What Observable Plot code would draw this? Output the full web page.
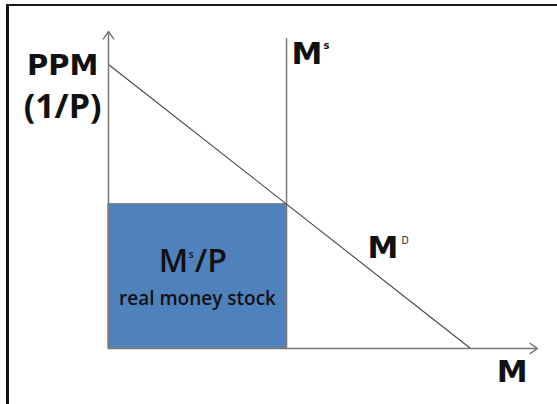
<!DOCTYPE html>
<html>
<head>
<meta charset="utf-8">
<script src="https://cdn.jsdelivr.net/npm/d3@7"></script>
<script src="https://cdn.jsdelivr.net/npm/@observablehq/plot@0.6"></script>
<style>
  html, body { margin: 0; padding: 0; background: #fff; }
  #wrap { position: relative; width: 557px; height: 404px; overflow: hidden; }
  #frame { position: absolute; left: 6px; top: 4px; width: 560px; height: 420px;
           border-top: 2.5px solid #1a1a1a; border-left: 3px solid #111; pointer-events: none; }
</style>
</head>
<body>
<div id="wrap"><div id="frame"></div></div>
<script>
// Money stock (horizontal) and purchasing power of money (vertical), abstract units 0–10
const axisMax = 10;
const moneySupply = 4.15;          // vertical Ms line position
const moneySupplyTop = 9.78;       // top end of Ms line
const demandM = [0, 8.44];         // MD line: M values
const demandPPM = [8.96, 0];       // MD line: PPM values
const equilibriumPPM = 4.55;       // PPM where Ms meets MD
const axisLabels = ["PPM", "(1/P)", "M"];
const curveNames = ["M", "s", "D"];
const boxTitle = ["M", "s", "/P"];
const boxSubtitle = "real money stock";

const demand = demandM.map((m, i) => ({M: m, PPM: demandPPM[i]}));

const bold = {fontFamily: "DejaVu Sans", fontWeight: "bold", fill: "#111"};
const reg = {fontFamily: "Open Sans", fontWeight: 600, fill: "#111"};

const chart = Plot.plot({
  width: 557,
  height: 404,
  marginLeft: 108,
  marginRight: 20,
  marginTop: 31,
  marginBottom: 56,
  x: {domain: [0, axisMax], axis: null},
  y: {domain: [0, axisMax], axis: null},
  style: {background: "transparent", overflow: "visible"},
  marks: [
    Plot.rect([{x1: 0, x2: moneySupply, y1: 0, y2: equilibriumPPM}],
      {x1: "x1", x2: "x2", y1: "y1", y2: "y2", fill: "#4F81BD", stroke: "#7a7a7a", strokeWidth: 1.2, inset: 0}),
    Plot.ruleX([moneySupply], {y1: 0, y2: moneySupplyTop, stroke: "#7a7a7a", strokeWidth: 1.5}),
    Plot.line(demand, {x: "M", y: "PPM", stroke: "#444", strokeWidth: 1.1}),
    Plot.arrow([{x1: 0, y1: 0, x2: 0, y2: axisMax}],
      {x1: "x1", y1: "y1", x2: "x2", y2: "y2", stroke: "#7a7a7a", strokeWidth: 1.5, headLength: 9, headAngle: 70}),
    Plot.arrow([{x1: 0, y1: 0, x2: axisMax, y2: 0}],
      {x1: "x1", y1: "y1", x2: "x2", y2: "y2", stroke: "#7a7a7a", strokeWidth: 1.5, headLength: 9, headAngle: 70}),
    // axis labels
    Plot.text([axisLabels[0]], {x: -1.07, y: 8.64, text: d => d, fontSize: 29, textAnchor: "middle", lineAnchor: "bottom", ...bold}),
    Plot.text([axisLabels[1]], {x: -1.07, y: 7.256, text: d => d, fontSize: 34, textAnchor: "middle", lineAnchor: "bottom", fontFamily: "Open Sans", fontWeight: 700, fill: "#111"}),
    Plot.text([axisLabels[2]], {x: 9.41, y: -1.07, text: d => d, fontSize: 31, textAnchor: "middle", lineAnchor: "bottom", ...bold}),
    // Ms label
    Plot.text([curveNames[0]], {x: moneySupply, y: 8.99, dx: 5, text: d => d, fontSize: 31, textAnchor: "start", lineAnchor: "bottom", ...bold}),
    Plot.text([curveNames[1]], {x: moneySupply, y: 8.99, dx: 37, dy: -15, text: d => d, fontSize: 10, textAnchor: "start", lineAnchor: "bottom", ...bold}),
    // MD label
    Plot.text([curveNames[0]], {x: 6.04, y: 2.86, text: d => d, fontSize: 31, textAnchor: "start", lineAnchor: "bottom", ...bold}),
    Plot.text([curveNames[2]], {x: 6.04, y: 2.86, dx: 34, dy: -14, text: d => d, fontSize: 10, textAnchor: "start", lineAnchor: "bottom", fontFamily: "Open Sans", fill: "#111"}),
    // box text
    Plot.text([boxTitle[0]], {x: 1.17, y: 2.4, text: d => d, fontSize: 32, textAnchor: "start", lineAnchor: "bottom", ...reg}),
    Plot.text([boxTitle[1]], {x: 1.17, y: 2.4, dx: 30, dy: -14, text: d => d, fontSize: 10, textAnchor: "start", lineAnchor: "bottom", ...reg}),
    Plot.text([boxTitle[2]], {x: 1.17, y: 2.4, dx: 36, text: d => d, fontSize: 32, textAnchor: "start", lineAnchor: "bottom", ...reg}),
    Plot.text([boxSubtitle], {x: moneySupply / 2, y: 1.36, text: d => d, fontSize: 19, fontWeight: 600, textAnchor: "middle", lineAnchor: "bottom", fontFamily: "Open Sans", fill: "#111"})
  ]
});
document.getElementById("wrap").prepend(chart);
</script>
</body>
</html>
